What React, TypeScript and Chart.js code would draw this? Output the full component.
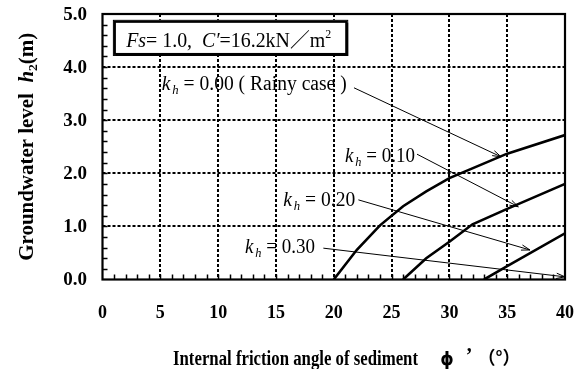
import React, { useEffect, useRef } from "react";
import { Chart, registerables } from "chart.js";

Chart.register(...registerables);

const SERIF = '"Liberation Serif", "Times New Roman", "Noto Sans CJK JP", serif';

// Curves: groundwater level h2 (m) vs internal friction angle phi' (deg)
const phiA = [20, 22, 24, 26, 28, 30, 35, 40];
const hA = [0, 0.56, 1.02, 1.38, 1.66, 1.91, 2.37, 2.72]; // kh = 0.00
const phiB = [26, 28, 30, 32, 35, 40];
const hB = [0, 0.4, 0.71, 1.04, 1.33, 1.8]; // kh = 0.10
const phiC = [33, 35, 40];
const hC = [0, 0.25, 0.87]; // kh = 0.20

const xTickValues = [0, 5, 10, 15, 20, 25, 30, 35, 40];
const xTickLabels = ["0", "5", "10", "15", "20", "25", "30", "35", "40"];
const yTickValues = [0, 1, 2, 3, 4, 5];
const yTickLabels = ["0.0", "1.0", "2.0", "3.0", "4.0", "5.0"];

// Annotation labels "k_h = ..." with leader arrows (data coordinates)
const kLabels = ["= 0.00 ( Rainy case )", "= 0.10", "= 0.20", "= 0.30"];
const kLabelX = [5.12, 20.97, 15.63, 12.32];
const kLabelY = [3.56, 2.21, 1.38, 0.5];
const kLabelWidth = [185, 70, 72, 70];
const arrowStartX = [21.75, 27.2, 22.13, 19.1];
const arrowStartY = [3.61, 2.36, 1.5, 0.59];
const arrowEndX = [34.47, 35.96, 36.97, 40.0];
const arrowEndY = [2.31, 1.37, 0.556, 0.05];

type Piece = { t: string; font: string; dy?: number; dx?: number };

function richWidth(ctx: CanvasRenderingContext2D, pieces: Piece[]) {
  let w = 0;
  for (const p of pieces) {
    ctx.font = p.font;
    w += ctx.measureText(p.t).width + (p.dx || 0);
  }
  return w;
}

function drawRich(
  ctx: CanvasRenderingContext2D,
  pieces: Piece[],
  x: number,
  y: number,
  target?: number
) {
  const w = richWidth(ctx, pieces);
  const s = target ? target / w : 1;
  ctx.save();
  ctx.translate(x, y);
  ctx.scale(s, 1);
  ctx.textAlign = "left";
  ctx.textBaseline = "alphabetic";
  let cx = 0;
  for (const p of pieces) {
    ctx.font = p.font;
    cx += p.dx || 0;
    ctx.fillText(p.t, cx, p.dy || 0);
    cx += ctx.measureText(p.t).width;
  }
  ctx.restore();
}

function arrow(ctx: CanvasRenderingContext2D, sx: number, sy: number, ex: number, ey: number) {
  ctx.beginPath();
  ctx.moveTo(sx, sy);
  ctx.lineTo(ex, ey);
  ctx.stroke();
  const ang = Math.atan2(ey - sy, ex - sx);
  const len = 9;
  const spr = 0.3;
  ctx.beginPath();
  ctx.moveTo(ex - len * Math.cos(ang - spr), ey - len * Math.sin(ang - spr));
  ctx.lineTo(ex, ey);
  ctx.lineTo(ex - len * Math.cos(ang + spr), ey - len * Math.sin(ang + spr));
  ctx.stroke();
}

const decor = {
  id: "decor",
  beforeDatasetsDraw(chart: any) {
    const { ctx, chartArea: a, scales } = chart;
    const x = scales.x;
    const y = scales.y;
    ctx.save();
    ctx.strokeStyle = "#000";
    ctx.lineWidth = 2;
    ctx.setLineDash([3, 2]);
    for (const v of xTickValues) {
      if (v === 0 || v === 40) continue;
      const px = Math.round(x.getPixelForValue(v));
      ctx.beginPath();
      ctx.moveTo(px, a.top);
      ctx.lineTo(px, a.bottom);
      ctx.stroke();
    }
    for (const v of yTickValues) {
      if (v === 0 || v === 5) continue;
      const py = Math.round(y.getPixelForValue(v));
      ctx.beginPath();
      ctx.moveTo(a.left, py);
      ctx.lineTo(a.right, py);
      ctx.stroke();
    }
    ctx.setLineDash([]);
    // minor ticks (inside)
    ctx.lineWidth = 1.5;
    for (let i = 1; i < 40; i++) {
      const px = Math.round(x.getPixelForValue(i)) + 0.5;
      ctx.beginPath();
      ctx.moveTo(px, a.bottom);
      ctx.lineTo(px, a.bottom - 5);
      ctx.stroke();
    }
    for (let i = 1; i < 25; i++) {
      const py = Math.round(y.getPixelForValue(i * 0.2)) + 0.5;
      ctx.beginPath();
      ctx.moveTo(a.left, py);
      ctx.lineTo(a.left + 5, py);
      ctx.stroke();
    }
    // frame
    ctx.lineWidth = 2.2;
    ctx.strokeRect(a.left, a.top, a.right - a.left, a.bottom - a.top);
    ctx.restore();
  },
  afterDatasetsDraw(chart: any) {
    const { ctx, chartArea: a, scales } = chart;
    const x = scales.x;
    const y = scales.y;
    ctx.save();
    ctx.fillStyle = "#000";
    ctx.strokeStyle = "#000";

    // tick labels
    ctx.font = `bold 19px ${SERIF}`;
    ctx.textAlign = "right";
    ctx.textBaseline = "middle";
    yTickValues.forEach((v, i) => {
      ctx.fillText(yTickLabels[i], a.left - 15.5, y.getPixelForValue(v) + 1);
    });
    ctx.font = `bold 18px ${SERIF}`;
    ctx.textAlign = "center";
    xTickValues.forEach((v, i) => {
      ctx.fillText(xTickLabels[i], x.getPixelForValue(v), a.bottom + 34);
    });

    // parameter box
    const bx0 = x.getPixelForValue(0.9);
    const bx1 = x.getPixelForValue(21.25);
    const by0 = y.getPixelForValue(4.89);
    const by1 = y.getPixelForValue(4.21);
    ctx.fillStyle = "#fff";
    ctx.fillRect(bx0, by0, bx1 - bx0, by1 - by0);
    ctx.lineWidth = 1;
    ctx.strokeRect(bx0 + 0.5, by0 + 0.5, bx1 - bx0 - 1, by1 - by0 - 1);
    ctx.lineWidth = 2;
    ctx.beginPath();
    ctx.moveTo(bx0 + 3, by1 - 1);
    ctx.lineTo(bx1 - 1, by1 - 1);
    ctx.lineTo(bx1 - 1, by0 + 3);
    ctx.stroke();
    ctx.strokeRect(bx0 + 2, by0 + 2, bx1 - bx0 - 4, by1 - by0 - 4);
    ctx.fillStyle = "#000";
    drawRich(
      ctx,
      [
        { t: "Fs", font: `italic 20px ${SERIF}` },
        { t: "= 1.0,  ", font: `20px ${SERIF}` },
        { t: "C′", font: `italic 20px ${SERIF}` },
        { t: "=16.2kN／m", font: `20px ${SERIF}` },
        { t: "2", font: `12px ${SERIF}`, dy: -9 },
      ],
      x.getPixelForValue(2.05),
      y.getPixelForValue(4.385),
      205
    );

    // k_h labels and arrows
    ctx.lineWidth = 1;
    kLabels.forEach((txt, i) => {
      drawRich(
        ctx,
        [
          { t: "k", font: `italic 20px ${SERIF}` },
          { t: "h", font: `italic 13px ${SERIF}`, dy: 4, dx: 2 },
          { t: " " + txt, font: `20px ${SERIF}` },
        ],
        x.getPixelForValue(kLabelX[i]),
        y.getPixelForValue(kLabelY[i]),
        kLabelWidth[i]
      );
      arrow(
        ctx,
        x.getPixelForValue(arrowStartX[i]),
        y.getPixelForValue(arrowStartY[i]),
        x.getPixelForValue(arrowEndX[i]),
        y.getPixelForValue(arrowEndY[i])
      );
    });

    // x axis title
    ctx.font = `bold 20px ${SERIF}`;
    ctx.textAlign = "left";
    ctx.textBaseline = "alphabetic";
    ctx.fillText("Internal friction angle of sediment", 173, 365, 245);
    ctx.textAlign = "center";
    ctx.font = `bold 17px "DejaVu Sans", ${SERIF}`;
    ctx.fillText("ϕ", 447, 365);
    ctx.font = `bold 20px ${SERIF}`;
    ctx.fillText("’", 469, 362);
    ctx.textAlign = "left";
    ctx.font = `bold 18px "Noto Sans CJK JP", sans-serif`;
    ctx.fillText("（°）", 478, 364, 42);

    // y axis title
    ctx.save();
    ctx.translate(33, (a.top + a.bottom) / 2);
    ctx.rotate(-Math.PI / 2);
    const pieces: Piece[] = [
      { t: "Groundwater level  ", font: `bold 20px ${SERIF}` },
      { t: "h", font: `bold italic 20px ${SERIF}` },
      { t: "2", font: `bold 13px ${SERIF}`, dy: 4 },
      { t: "(m)", font: `bold 20px ${SERIF}` },
    ];
    drawRich(ctx, pieces, -114, 0, 228);
    ctx.restore();

    ctx.restore();
  },
};

export default function App() {
  const ref = useRef<HTMLCanvasElement | null>(null);
  useEffect(() => {
    if (!ref.current) return;
    const mk = (xs: number[], ys: number[]) => xs.map((v, i) => ({ x: v, y: ys[i] }));
    const ds = (xs: number[], ys: number[]) => ({
      data: mk(xs, ys),
      showLine: true,
      borderColor: "#000",
      borderWidth: 2.6,
      pointRadius: 0,
      fill: false,
      tension: 0,
    });
    const chart = new Chart(ref.current, {
      type: "scatter",
      data: { datasets: [ds(phiA, hA), ds(phiB, hB), ds(phiC, hC)] as any },
      options: {
        responsive: false,
        animation: false,
        devicePixelRatio: 1,
        layout: { padding: { top: 14, right: 17, left: 0, bottom: 0 } },
        plugins: { legend: { display: false }, tooltip: { enabled: false } },
        scales: {
          x: {
            type: "linear",
            min: 0,
            max: 40,
            ticks: { display: false },
            grid: { display: false },
            border: { display: false },
            afterFit: (s: any) => {
              s.height = 89.5;
            },
          },
          y: {
            type: "linear",
            min: 0,
            max: 5,
            ticks: { display: false },
            grid: { display: false },
            border: { display: false },
            afterFit: (s: any) => {
              s.width = 102.5;
            },
          },
        },
      } as any,
      plugins: [decor],
    });
    return () => chart.destroy();
  }, []);
  return (
    <div style={{ position: "fixed", left: 0, top: 0, width: 582, height: 369, background: "#fff" }}>
      <canvas ref={ref} width={582} height={369} style={{ display: "block", width: 582, height: 369 }} />
    </div>
  );
}
